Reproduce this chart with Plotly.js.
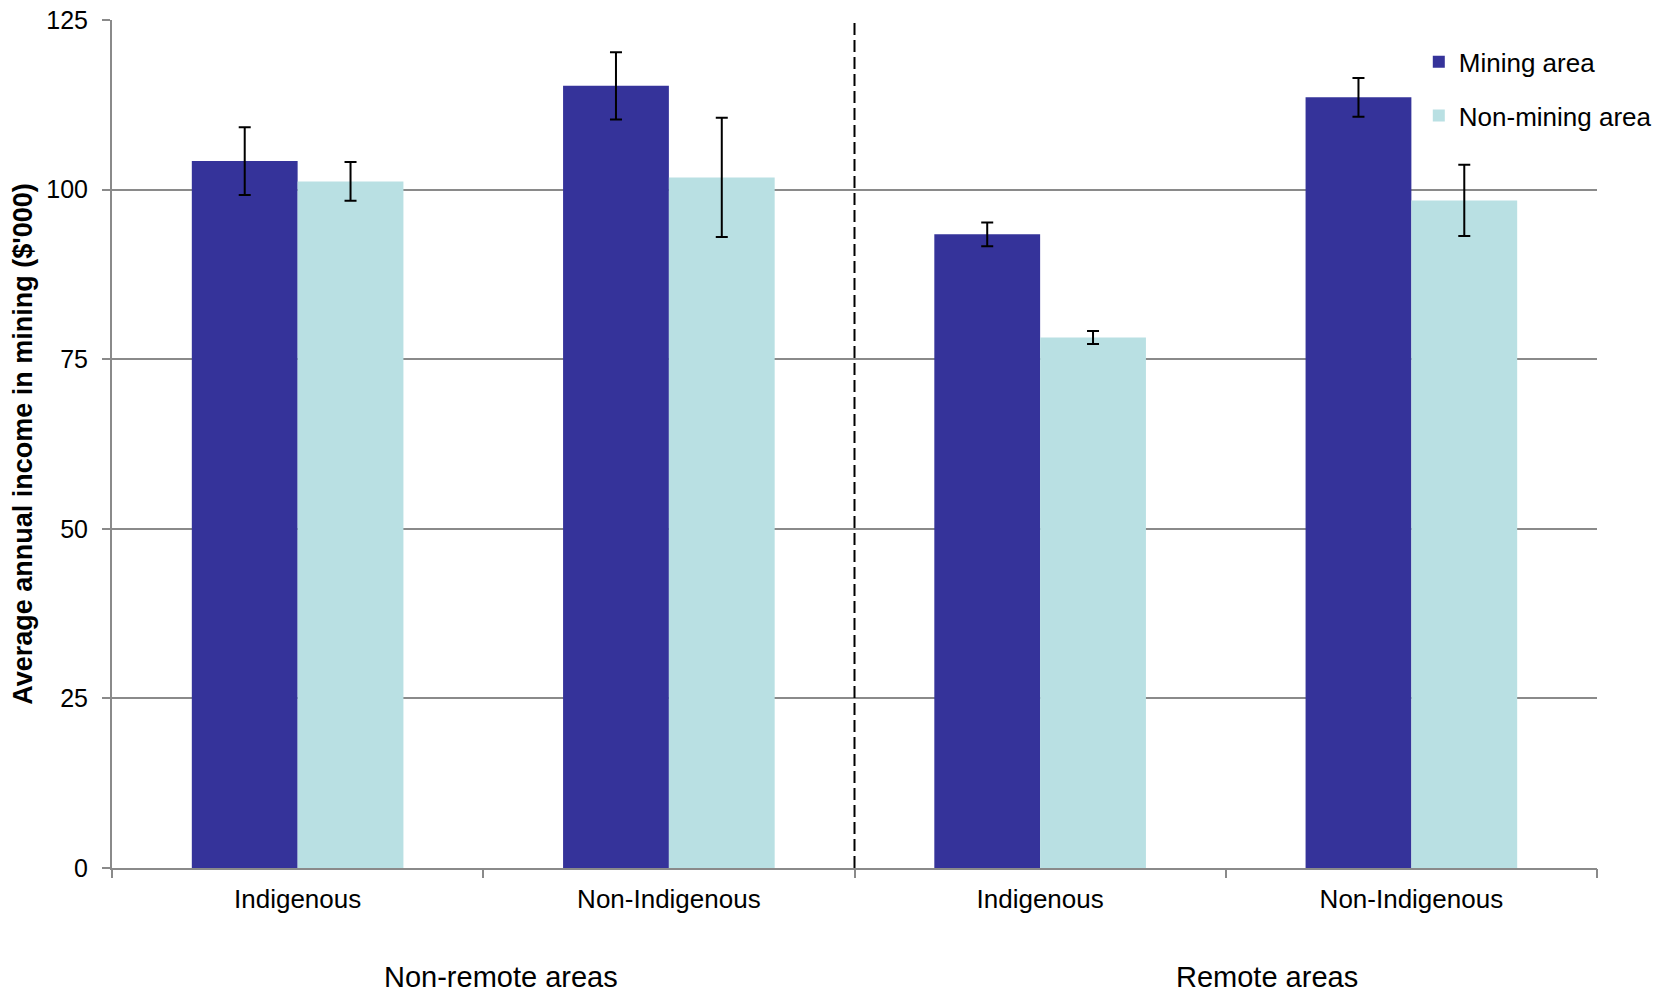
<!DOCTYPE html>
<html>
<head>
<meta charset="utf-8">
<script src="https://cdn.plot.ly/plotly-3.0.1.min.js"></script>
<style>html,body{margin:0;padding:0;background:#fff;}#chart{width:1669px;height:992px;}</style>
</head>
<body>
<div id="chart"></div>
<script>
// ---- data ----
const regions = ["Non-remote areas", "Non-remote areas", "Remote areas", "Remote areas"];
const categories = ["Indigenous", "Non-Indigenous", "Indigenous", "Non-Indigenous"];
const seriesNames = ["Mining area", "Non-mining area"];
const miningValues = [104.2, 115.3, 93.4, 113.6];
const miningErrors = [5.0, 4.95, 1.75, 2.85];
const nonMiningValues = [101.2, 101.8, 78.2, 98.4];
const nonMiningErrors = [2.85, 8.8, 0.95, 5.25];
const yTickValues = [0, 25, 50, 75, 100, 125];
const regionNames = ["Non-remote areas", "Remote areas"];

// ---- build ----
const idx = categories.map((_, i) => i);
const font = "Liberation Sans, Arial, sans-serif";
const gridColor = "#8a8a8a";

const errStyle = {type: "data", visible: true, color: "#000", thickness: 2, width: 6};

const traces = [
  {type: "bar", name: seriesNames[0], x: idx, y: miningValues,
   marker: {color: "#35339A"}, legendgroup: "a",
   error_y: Object.assign({array: miningErrors}, errStyle), hoverinfo: "y"},
  {type: "bar", name: seriesNames[1], x: idx, y: nonMiningValues,
   marker: {color: "#B9E0E3"}, legendgroup: "b",
   error_y: Object.assign({array: nonMiningErrors}, errStyle), hoverinfo: "y"},
  {type: "scatter", x: [], y: [], xaxis: "x2", yaxis: "y", showlegend: false, hoverinfo: "skip"}
];

// boundary between regions (derived from data)
let splitAt = regions.findIndex(r => r !== regions[0]) - 0.5;

// region label centres (paper), positions tuned to reference layout
const regionLabelX = [0.262, 0.778];

const layout = {
  width: 1669, height: 992,
  margin: {l: 112, r: 72, t: 20, b: 124},
  paper_bgcolor: "#fff", plot_bgcolor: "#fff",
  font: {family: font, size: 26, color: "#000"},
  barmode: "group", bargap: 0.43, bargroupgap: 0,
  showlegend: true,
  legend: {x: 0.880, xanchor: "left", y: 0.9785, yanchor: "top",
           font: {family: font, size: 26, color: "#000"},
           bgcolor: "rgba(0,0,0,0)", tracegroupgap: 17, itemwidth: 30},
  xaxis: {range: [-0.5, idx.length - 0.5], tickmode: "array", tickvals: idx, ticktext: categories,
          ticks: "", showgrid: false, zeroline: false, showline: true, linecolor: gridColor, linewidth: 2,
          tickfont: {family: font, size: 26, color: "#000"}, ticklabelstandoff: 7, fixedrange: true},
  xaxis2: {overlaying: "x", anchor: "y", range: [-0.5, idx.length - 0.5], tickmode: "linear", tick0: -0.5, dtick: 1,
           ticks: "outside", ticklen: 9, tickwidth: 2, tickcolor: gridColor, showticklabels: false,
           showgrid: false, zeroline: false, showline: false, side: "bottom"},
  yaxis: {range: [0, 125], tickmode: "array", tickvals: yTickValues,
          ticks: "outside", ticklen: 8, tickwidth: 2, tickcolor: gridColor,
          showgrid: true, gridcolor: gridColor, gridwidth: 2, zeroline: false,
          showline: true, linecolor: gridColor, linewidth: 2,
          tickfont: {family: font, size: 25, color: "#000"}, ticklabelstandoff: 9,
          title: {text: "<b>Average annual income in mining ($'000)</b>", font: {family: font, size: 27, color: "#000"}, standoff: 6}},
  shapes: [
    {type: "line", xref: "x", yref: "y", x0: splitAt, x1: splitAt, y0: 0, y1: 125,
     line: {color: "#000", width: 2, dash: "12px,5px"}}
  ],
  annotations: regionNames.map((r, i) => ({
    text: r, xref: "paper", yref: "paper", x: regionLabelX[i], y: -0.1285,
    xanchor: "center", yanchor: "middle", showarrow: false,
    font: {family: font, size: 29, color: "#000"}
  }))
};

Plotly.newPlot("chart", traces, layout, {displayModeBar: false, staticPlot: true});
</script>
</body>
</html>
